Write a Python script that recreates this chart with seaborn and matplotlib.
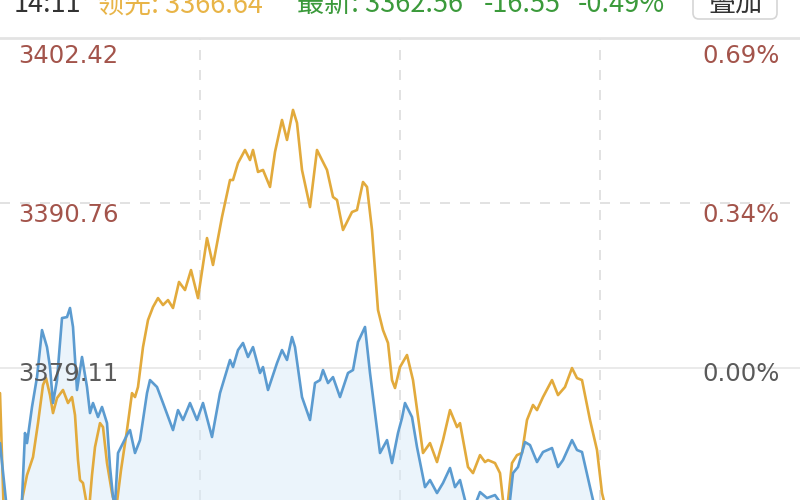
import matplotlib
matplotlib.use("Agg")
import matplotlib.pyplot as plt
import matplotlib.patches as mpatches
import pandas as pd
import seaborn as sns

# intraday data, minutes after 9:30 (trading time, 240 per session)
lead_min = [0, 1.2, 3, 5.1, 6.6, 8.1, 9.9, 11.4, 12.9, 13.8, 15, 15.9, 17.1, 18.9, 20.4, 21.6,
            22.5, 23.4, 24, 24.9, 25.8, 26.7, 27.6, 28.5, 30, 30.9, 32.1, 33.6, 34.8, 36.3,
            38.1, 39.6, 40.5, 41.4, 42.9, 44.4, 45.9, 47.4, 48.9, 50.4, 51.9, 53.7, 55.5,
            57.3, 59.4, 62.1, 63.9, 66.6, 69, 69.9, 71.4, 73.5, 75, 75.9, 77.4, 78.9, 81,
            82.5, 84.6, 86.1, 87.9, 89.1, 90.6, 93, 95.1, 96.6, 98.1, 99.9, 101.1, 102.9,
            105.6, 107.1, 108.9, 110.1, 111.6, 113.4, 114.9, 116.4, 117.6, 118.5, 120,
            122.1, 123.9, 126.9, 129, 131.1, 132.9, 135, 137.1, 138, 140.4, 141.9, 144,
            145.5, 146.4, 148.5, 150, 150.9, 152.1, 153.6, 155.1, 156.6, 158.1, 159.9,
            161.1, 162.9, 165.6, 167.4, 169.5, 171.6, 173.1, 174.6, 177, 179.1, 180.6,
            183, 186, 191]
lead_val = [3377.34, 3368.37, 3366.25, 3366.96, 3369.79, 3371.55, 3372.82, 3375.22, 3377.91,
            3378.40, 3377.20, 3375.93, 3376.99, 3377.56, 3376.64, 3377.06, 3375.79, 3372.61,
            3371.20, 3370.99, 3369.79, 3369.08, 3371.55, 3373.53, 3375.22, 3374.94, 3372.40,
            3370.28, 3369.08, 3371.90, 3374.73, 3377.34, 3377.06, 3377.77, 3380.59, 3382.50,
            3383.42, 3384.05, 3383.56, 3383.91, 3383.35, 3385.19, 3384.62, 3386.03, 3384.05,
            3388.29, 3386.39, 3389.78, 3392.39, 3392.39, 3393.59, 3394.51, 3393.80, 3394.51,
            3392.96, 3393.10, 3391.90, 3394.37, 3396.63, 3395.22, 3397.34, 3396.42, 3393.10,
            3390.48, 3394.51, 3393.80, 3393.10, 3391.19, 3390.98, 3388.86, 3390.13, 3390.27,
            3392.25, 3391.90, 3388.86, 3383.21, 3381.79, 3380.88, 3378.26, 3377.70, 3379.18,
            3380.03, 3378.26, 3373.11, 3373.81, 3372.47, 3374.02, 3376.14, 3374.94, 3375.22,
            3372.12, 3371.69, 3372.96, 3372.47, 3372.61, 3372.40, 3371.69, 3369.79, 3369.08,
            3372.40, 3372.96, 3373.11, 3375.44, 3376.50, 3376.14, 3377.06, 3378.26, 3377.20,
            3377.77, 3379.11, 3378.40, 3378.26, 3375.44, 3373.32, 3370.28, 3368.00, 3367.20,
            3366.64]

last_min = [0, 2.4, 3.6, 5.4, 6.6, 7.5, 8.1, 9.6, 11.1, 12.6, 14.1, 15, 15.9, 17.1, 18.6,
            20.1, 21, 21.9, 23.1, 24.6, 26.1, 27, 27.9, 29.4, 30.6, 32.1, 33, 33.9, 34.5,
            35.4, 36.9, 38.4, 39, 40.5, 42, 44.1, 45, 47.1, 48.9, 51.9, 53.4, 54.9, 57,
            59.1, 60.9, 63.6, 66, 69, 69.9, 71.4, 72.9, 74.4, 75.9, 78, 78.9, 80.4, 83.1,
            84.6, 86.1, 87.6, 88.5, 90.6, 93, 94.5, 96, 96.9, 98.4, 99.9, 102, 104.4, 105.9,
            107.4, 109.5, 111, 114, 116.1, 117.6, 119.4, 120.6, 121.5, 123.6, 125.1, 127.5,
            129, 131.1, 132.9, 135, 136.5, 138, 139.5, 141, 142.5, 144, 146.1, 148.5, 150,
            151.5, 153, 153.9, 155.4, 157.5, 159, 161.1, 162.9, 165.6, 167.4, 168.9, 171.6,
            173.1, 174.6, 177, 177.9, 180, 183, 186, 191]
last_val = [3373.81, 3368.37, 3366.96, 3367.70, 3369.79, 3374.52, 3373.81, 3376.36, 3378.47,
            3381.79, 3380.59, 3379.18, 3376.64, 3378.26, 3382.64, 3382.71, 3383.35, 3382.01,
            3377.56, 3379.89, 3377.77, 3375.93, 3376.64, 3375.65, 3376.36, 3375.22, 3372.12,
            3370.00, 3369.43, 3373.11, 3373.81, 3374.52, 3374.73, 3373.11, 3374.02, 3377.34,
            3378.26, 3377.77, 3376.64, 3374.73, 3376.14, 3375.44, 3376.64, 3375.44, 3376.64,
            3374.24, 3377.34, 3379.68, 3379.18, 3380.38, 3380.88, 3379.89, 3380.59, 3378.76,
            3379.18, 3377.56, 3379.46, 3380.38, 3379.68, 3381.30, 3380.59, 3377.06, 3375.44,
            3378.05, 3378.26, 3378.97, 3378.05, 3378.47, 3377.06, 3378.76, 3378.97, 3380.95,
            3382.01, 3378.76, 3373.11, 3374.02, 3372.40, 3374.52, 3375.58, 3376.64, 3375.65,
            3373.53, 3370.70, 3371.20, 3370.28, 3370.99, 3372.05, 3370.70, 3371.20, 3369.79,
            3369.08, 3369.43, 3370.35, 3369.93, 3370.14, 3369.64, 3368.94, 3369.79, 3371.69,
            3372.12, 3373.88, 3373.67, 3372.47, 3373.18, 3373.46, 3372.12, 3372.61, 3374.02,
            3373.32, 3373.18, 3370.70, 3369.79, 3367.80, 3365.50, 3364.20, 3362.56]

prev_close = 3379.11
price_ticks = [3402.42, 3390.76, 3379.11]
pct_ticks = ["0.69%", "0.34%", "0.00%"]
session_marks = [60, 120, 180]

header_time = "14:11"
header_lead = "领先: 3366.64"
header_last = "最新: 3362.56"
header_chg = "-16.55"
header_pct = "-0.49%"

sns.set_style("white")
plt.rcParams['font.family'] = ['Noto Sans CJK SC', 'DejaVu Sans']

lead_df = pd.DataFrame({'minute': lead_min, 'price': lead_val})
last_df = pd.DataFrame({'minute': last_min, 'price': last_val})

fig = plt.figure(figsize=(8, 5), dpi=100)
ax = fig.add_axes([0, 0, 1, 462 / 500])

ymin, ymax = 3369.79, 3402.42

# grid
ax.axhline(prev_close, color='#e6e6e6', lw=1.2, zorder=1)
ax.axhline(price_ticks[1], color='#dddddd', lw=1.2, ls=(0, (6, 6)), zorder=1)
for m in session_marks:
    ax.axvline(m, color='#dddddd', lw=1.2, ls=(0, (6, 6)), zorder=1)

# fill under the latest price
ax.fill_between(last_min, last_val, 3300, color='#d9eaf9', alpha=0.5, lw=0, zorder=2)

sns.lineplot(data=lead_df, x='minute', y='price', ax=ax, color='#e2aa3c', lw=1.9, zorder=4)
sns.lineplot(data=last_df, x='minute', y='price', ax=ax, color='#5b9bd0', lw=1.9, zorder=5)

ax.set_xlim(0, 240)
ax.set_ylim(ymin, ymax)
ax.set_xticks([])
ax.set_yticks([])
ax.set_xlabel('')
ax.set_ylabel('')
for side in ['left', 'right', 'bottom']:
    ax.spines[side].set_visible(False)
ax.spines['top'].set_color('#e3e3e3')
ax.spines['top'].set_linewidth(2)

# price and percent labels
label_offsets = [-18, -12, -6]
for val, pct, off in zip(price_ticks, pct_ticks, label_offsets):
    col = '#5a5a5a' if val == prev_close else '#a3544b'
    ax.annotate(f"{val:.2f}", xy=(0, val), xycoords=('axes fraction', 'data'),
                xytext=(13, off * 0.72), textcoords='offset points', va='center', ha='left',
                fontsize=17.5, color=col, family='DejaVu Sans', zorder=6)
    ax.annotate(pct, xy=(1, val), xycoords=('axes fraction', 'data'),
                xytext=(-14.5, off * 0.72), textcoords='offset points', va='center', ha='right',
                fontsize=17.5, color=col, family='DejaVu Sans', zorder=6)

# header row (partly cut off at the top)
base_y = 1 - 12 / 500
hsize = 19.5
fig.text(14 / 800, base_y, header_time, fontsize=hsize, color='#333333', va='baseline')
fig.text(97 / 800, base_y, header_lead, fontsize=hsize, color='#e8b447', va='baseline')
fig.text(297 / 800, base_y, header_last, fontsize=hsize, color='#3b9a3b', va='baseline')
fig.text(484 / 800, base_y, header_chg, fontsize=hsize, color='#3b9a3b', va='baseline')
fig.text(578 / 800, base_y, header_pct, fontsize=hsize, color='#3b9a3b', va='baseline')

button = mpatches.FancyBboxPatch((6.93, 4.81), 0.84, 0.4,
                                 boxstyle='round,pad=0,rounding_size=0.06',
                                 transform=fig.dpi_scale_trans, facecolor='white',
                                 edgecolor='#d6d6d6', lw=1.2)
fig.patches.append(button)
fig.text(736 / 800, base_y, "叠加", fontsize=hsize, color='#333333', va='baseline', ha='center')

fig.savefig('out.png', dpi=100)
